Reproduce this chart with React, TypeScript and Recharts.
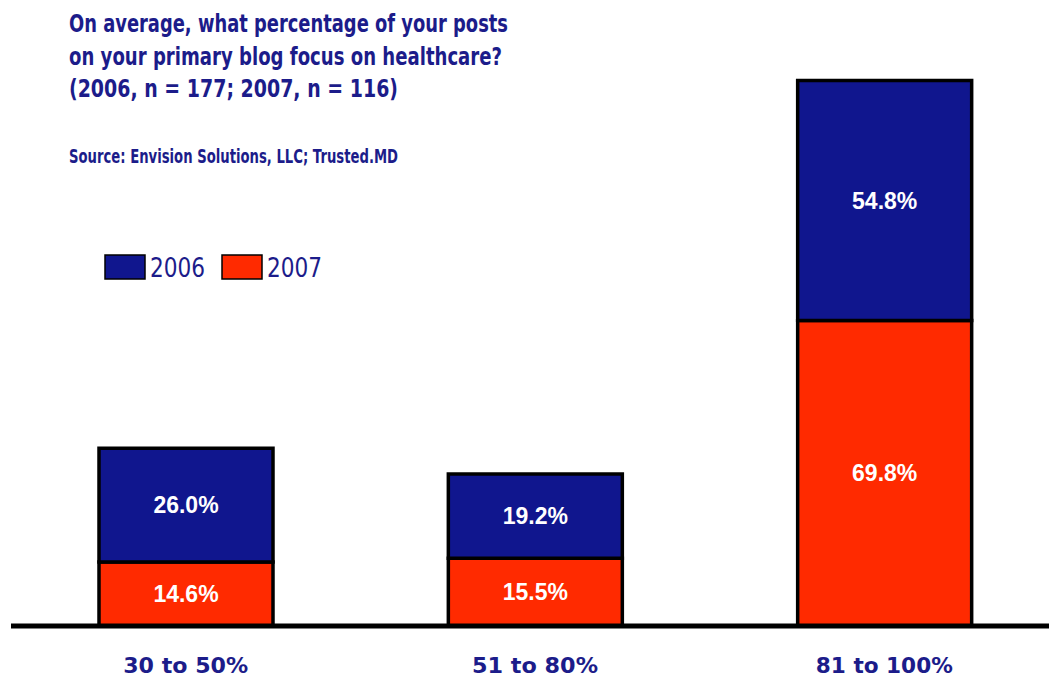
import { Bar, BarChart, LabelList, Legend, XAxis, YAxis } from "recharts";

const categories = ["30 to 50%", "51 to 80%", "81 to 100%"];
const values2006 = [26.0, 19.2, 54.8];
const values2007 = [14.6, 15.5, 69.8];
const seriesNames = ["2006", "2007"];

const titleLines = [
  "On average, what percentage of your posts",
  "on your primary blog focus on healthcare?",
  "(2006, n = 177; 2007, n = 116)",
];
const sourceText = "Source: Envision Solutions, LLC; Trusted.MD";

const NAVY = "#1c1c8a";
const BLUE = "#10168e";
const RED = "#ff2a00";
const FONT = "'DejaVu Sans', Verdana, sans-serif";

const titleWidths = [439, 433, 329];
const tickWidths: Record<string, number> = {
  "30 to 50%": 125,
  "51 to 80%": 126,
  "81 to 100%": 137,
};

const data = categories.map((name, i) => ({
  name,
  y2006: values2006[i],
  y2007: values2007[i],
}));

const pct = (v: unknown) => `${Number(v).toFixed(1)}%`;

function CategoryTick({ x, y, payload }: any) {
  const label = String(payload.value);
  const w = tickWidths[label] ?? 125;
  return (
    <text
      x={x - w / 2}
      y={y + 39}
      textLength={w}
      lengthAdjust="spacingAndGlyphs"
      fill={NAVY}
      fontFamily={FONT}
      fontWeight="bold"
      fontSize={21}
    >
      {label}
    </text>
  );
}

function YearLegend({ payload }: any) {
  const items = [...(payload ?? [])].sort((a, b) =>
    String(a.value).localeCompare(String(b.value))
  );
  return (
    <svg width={240} height={36} style={{ overflow: "visible", display: "block" }}>
      {items.map((item: any, i: number) => {
        const x0 = 1 + i * 117;
        return (
          <g key={item.value}>
            <rect x={x0} y={1} width={40} height={24} fill={item.color} stroke="#000" strokeWidth={1.5} />
            <text
              x={x0 + 45}
              y={23}
              textLength={55}
              lengthAdjust="spacingAndGlyphs"
              fill={NAVY}
              fontFamily={FONT}
              fontSize={27}
            >
              {item.value}
            </text>
          </g>
        );
      })}
    </svg>
  );
}

export default function App() {
  return (
    <div
      style={{
        position: "absolute",
        left: 0,
        top: 0,
        width: 1049,
        height: 678,
        overflow: "hidden",
        background: "#fff",
      }}
    >
      <BarChart
        width={1060}
        height={678}
        data={data}
        margin={{ top: 13, right: 1, bottom: 12, left: 11 }}
      >
        <XAxis
          dataKey="name"
          height={40}
          axisLine={{ stroke: "#000", strokeWidth: 5 }}
          tickLine={false}
          tick={<CategoryTick />}
          interval={0}
        />
        <YAxis hide domain={[0, 140]} />
        <Legend
          layout="horizontal"
          verticalAlign="middle"
          align="center"
          content={<YearLegend />}
          wrapperStyle={{ left: 104, top: 254, width: 240, height: 36 }}
        />
        <Bar
          dataKey="y2007"
          name={seriesNames[1]}
          stackId="a"
          fill={RED}
          stroke="#000"
          strokeWidth={3.5}
          barSize={174}
          isAnimationActive={false}
        >
          <LabelList
            dataKey="y2007"
            position="center"
            formatter={pct}
            fill="#fff"
            fontFamily="'Liberation Sans', Arial, sans-serif"
            fontWeight="bold"
            fontSize={23}
          />
        </Bar>
        <Bar
          dataKey="y2006"
          name={seriesNames[0]}
          stackId="a"
          fill={BLUE}
          stroke="#000"
          strokeWidth={3.5}
          barSize={174}
          isAnimationActive={false}
        >
          <LabelList
            dataKey="y2006"
            position="center"
            formatter={pct}
            fill="#fff"
            fontFamily="'Liberation Sans', Arial, sans-serif"
            fontWeight="bold"
            fontSize={23}
          />
        </Bar>
      </BarChart>

      <svg
        width={1049}
        height={180}
        style={{ position: "absolute", left: 0, top: 0, pointerEvents: "none" }}
      >
        {titleLines.map((line, i) => (
          <text
            key={line}
            x={69}
            y={32 + i * 32.5}
            textLength={titleWidths[i]}
            lengthAdjust="spacingAndGlyphs"
            fill={NAVY}
            fontFamily={FONT}
            fontWeight="bold"
            fontSize={25}
          >
            {line}
          </text>
        ))}
        <text
          x={69}
          y={163}
          textLength={329}
          lengthAdjust="spacingAndGlyphs"
          fill={NAVY}
          fontFamily={FONT}
          fontWeight="bold"
          fontSize={20}
        >
          {sourceText}
        </text>
      </svg>
    </div>
  );
}
